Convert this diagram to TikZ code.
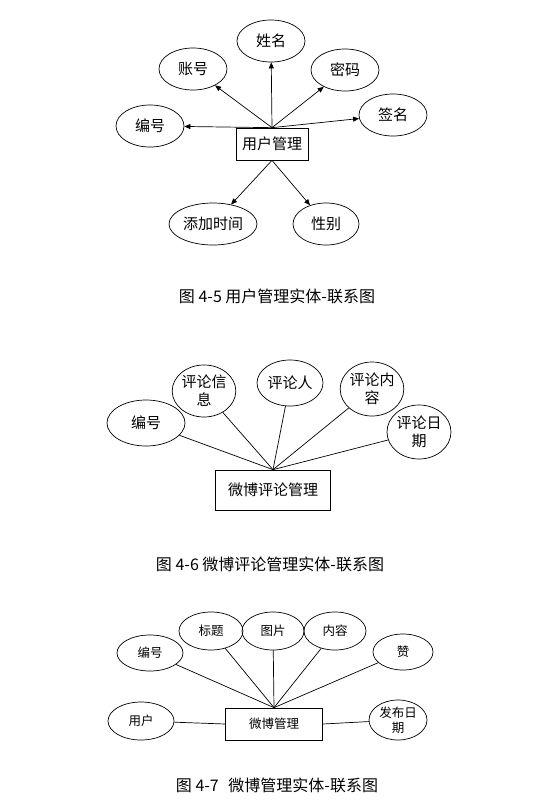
\documentclass[tikz,border=0pt]{standalone}
\usepackage{fontspec}
\setmainfont{Noto Sans CJK SC}
\usetikzlibrary{shapes.geometric,arrows.meta}

\begin{document}
\begin{tikzpicture}[x=1pt,y=-1pt,line width=0.7pt,
  attr/.style={ellipse,draw,inner sep=0pt,align=center},
  ent/.style={rectangle,draw,inner sep=0pt},
  arw/.style={-{Triangle[length=6pt,width=5pt]}},
  figcap/.style={font=\fontsize{16}{18}\selectfont}]
\useasboundingbox (0,0) rectangle (560,804);
% figure 4-5
\begin{scope}[font=\fontsize{15}{17}\selectfont]
\node[ent,minimum width=72,minimum height=32] (a0) at (272,144){用户管理};
\node[attr,minimum width=68,minimum height=42] (a1) at (271,41){姓名};
\node[attr,minimum width=68,minimum height=42] (a2) at (193,69){账号};
\node[attr,minimum width=68,minimum height=42] (a3) at (345,70){密码};
\node[attr,minimum width=68,minimum height=42] (a4) at (393,115){签名};
\node[attr,minimum width=68,minimum height=42] (a5) at (150,126){编号};
\node[attr,minimum width=88,minimum height=42] (a6) at (213,224){添加时间};
\node[attr,minimum width=66,minimum height=42] (a7) at (326,224){性别};
\end{scope}
\foreach \to in {1,...,5}
  \draw[arw] (a0.north) -- (a\to);
\foreach \to in {6,7}
  \draw[arw] (a0.south) -- (a\to);
\node[figcap] (t1) at (277,296){图 4-5 用户管理实体-联系图};
% figure 4-6
\begin{scope}[font=\fontsize{15}{18}\selectfont]
\node[ent,minimum width=115,minimum height=40] (b0) at (273,490){微博评论管理};
\node[attr,minimum width=78,minimum height=46] (b1) at (146,423){编号};
\node[attr,minimum width=60,minimum height=52] (b2) at (204,391){评论信\\息};
\node[attr,minimum width=66,minimum height=46] (b3) at (290,383){评论人};
\node[attr,minimum width=62,minimum height=54] (b4) at (372,389){评论内\\容};
\node[attr,minimum width=64,minimum height=54] (b5) at (419,432){评论日\\期};
\end{scope}
\foreach \to in {1,...,5}
  \draw (b0.north) -- (b\to);
\node[figcap] (t2) at (270,564){图 4-6 微博评论管理实体-联系图};
% figure 4-7
\begin{scope}[font=\fontsize{12.5}{15}\selectfont]
\node[ent,minimum width=97,minimum height=32] (c0) at (274,724){微博管理};
\node[attr,minimum width=66,minimum height=36] (c1) at (150,653){编号};
\node[attr,minimum width=64,minimum height=38] (c2) at (211,631){标题};
\node[attr,minimum width=62,minimum height=38] (c3) at (273,631){图片};
\node[attr,minimum width=62,minimum height=38] (c4) at (335,631){内容};
\node[attr,minimum width=60,minimum height=36] (c5) at (403,652){赞};
\node[attr,minimum width=66,minimum height=38] (c6) at (141,721){用户};
\node[attr,minimum width=58,minimum height=40] (c7) at (398,720){发布日\\期};
\end{scope}
\foreach \to in {1,...,5}
  \draw (c0.north) -- (c\to);
\draw (c6) -- (c0.west);
\draw (c0.east) -- (c7);
\node[figcap] (t3) at (277,785){图 4-7\hspace{0.6em}微博管理实体-联系图};
\end{tikzpicture}
\end{document}
